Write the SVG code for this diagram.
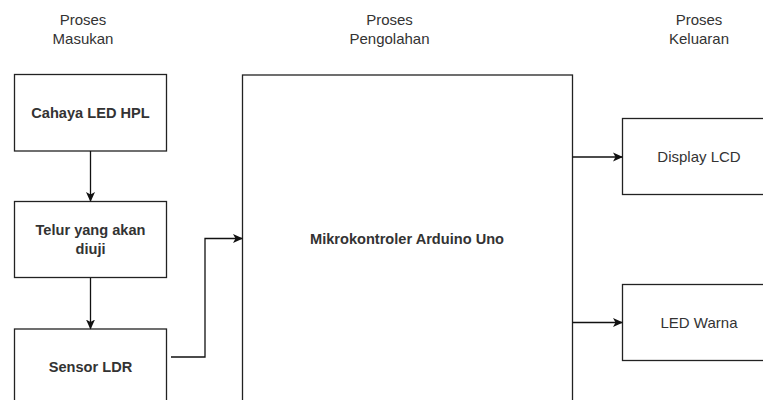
<svg xmlns="http://www.w3.org/2000/svg" width="763" height="400" viewBox="0 0 763 400">
<style>
.box{fill:#fff;stroke:#222;stroke-width:1.3}
.t{font-family:"Liberation Sans",Arial,sans-serif;font-size:15px;fill:#333;text-anchor:middle}
.b{font-weight:bold;font-size:14.6px}
.edge{fill:none;stroke:#111;stroke-width:1.3}
</style>
<defs>
<marker id="arr" markerWidth="10" markerHeight="10" refX="9" refY="5" orient="auto" markerUnits="userSpaceOnUse">
<path d="M0,0.5 L10,5 L0,9.5 L2.5,5 z" fill="#111"/>
</marker>
</defs>
<rect width="763" height="400" fill="#fff"/>
<g id="headers">
<text class="t" x="83" y="25">Proses</text>
<text class="t" x="83" y="44">Masukan</text>
<text class="t" x="389.5" y="25">Proses</text>
<text class="t" x="389.5" y="44">Pengolahan</text>
<text class="t" x="699" y="25">Proses</text>
<text class="t" x="699" y="44">Keluaran</text>
</g>
<g id="cahaya">
<rect class="box" x="14.5" y="74.5" width="152" height="76.5"/>
<text class="t b" x="90.5" y="118">Cahaya LED HPL</text>
</g>
<g id="telur">
<rect class="box" x="14.5" y="201.5" width="152" height="76"/>
<text class="t b" x="90.5" y="235">Telur yang akan</text>
<text class="t b" x="90.5" y="254">diuji</text>
</g>
<g id="sensor">
<rect class="box" x="14.5" y="329" width="152" height="80"/>
<text class="t b" x="90.5" y="372">Sensor LDR</text>
</g>
<g id="mikro">
<rect class="box" x="242.5" y="75" width="330" height="340"/>
<text class="t b" x="407" y="244">Mikrokontroler Arduino Uno</text>
</g>
<g id="display">
<rect class="box" x="622.5" y="118.5" width="153" height="76"/>
<text class="t" x="699" y="162">Display LCD</text>
</g>
<g id="led">
<rect class="box" x="622.5" y="284.5" width="153" height="76"/>
<text class="t" x="699" y="328">LED Warna</text>
</g>
<g id="connectors">
<path class="edge" d="M90.5,151 V201" marker-end="url(#arr)"/>
<path class="edge" d="M90.5,278 V328.5" marker-end="url(#arr)"/>
<path class="edge" d="M171,357 H205 V238.5 H242" marker-end="url(#arr)"/>
<path class="edge" d="M572.5,157 H622" marker-end="url(#arr)"/>
<path class="edge" d="M572.5,322.5 H622" marker-end="url(#arr)"/>
</g>
</svg>
